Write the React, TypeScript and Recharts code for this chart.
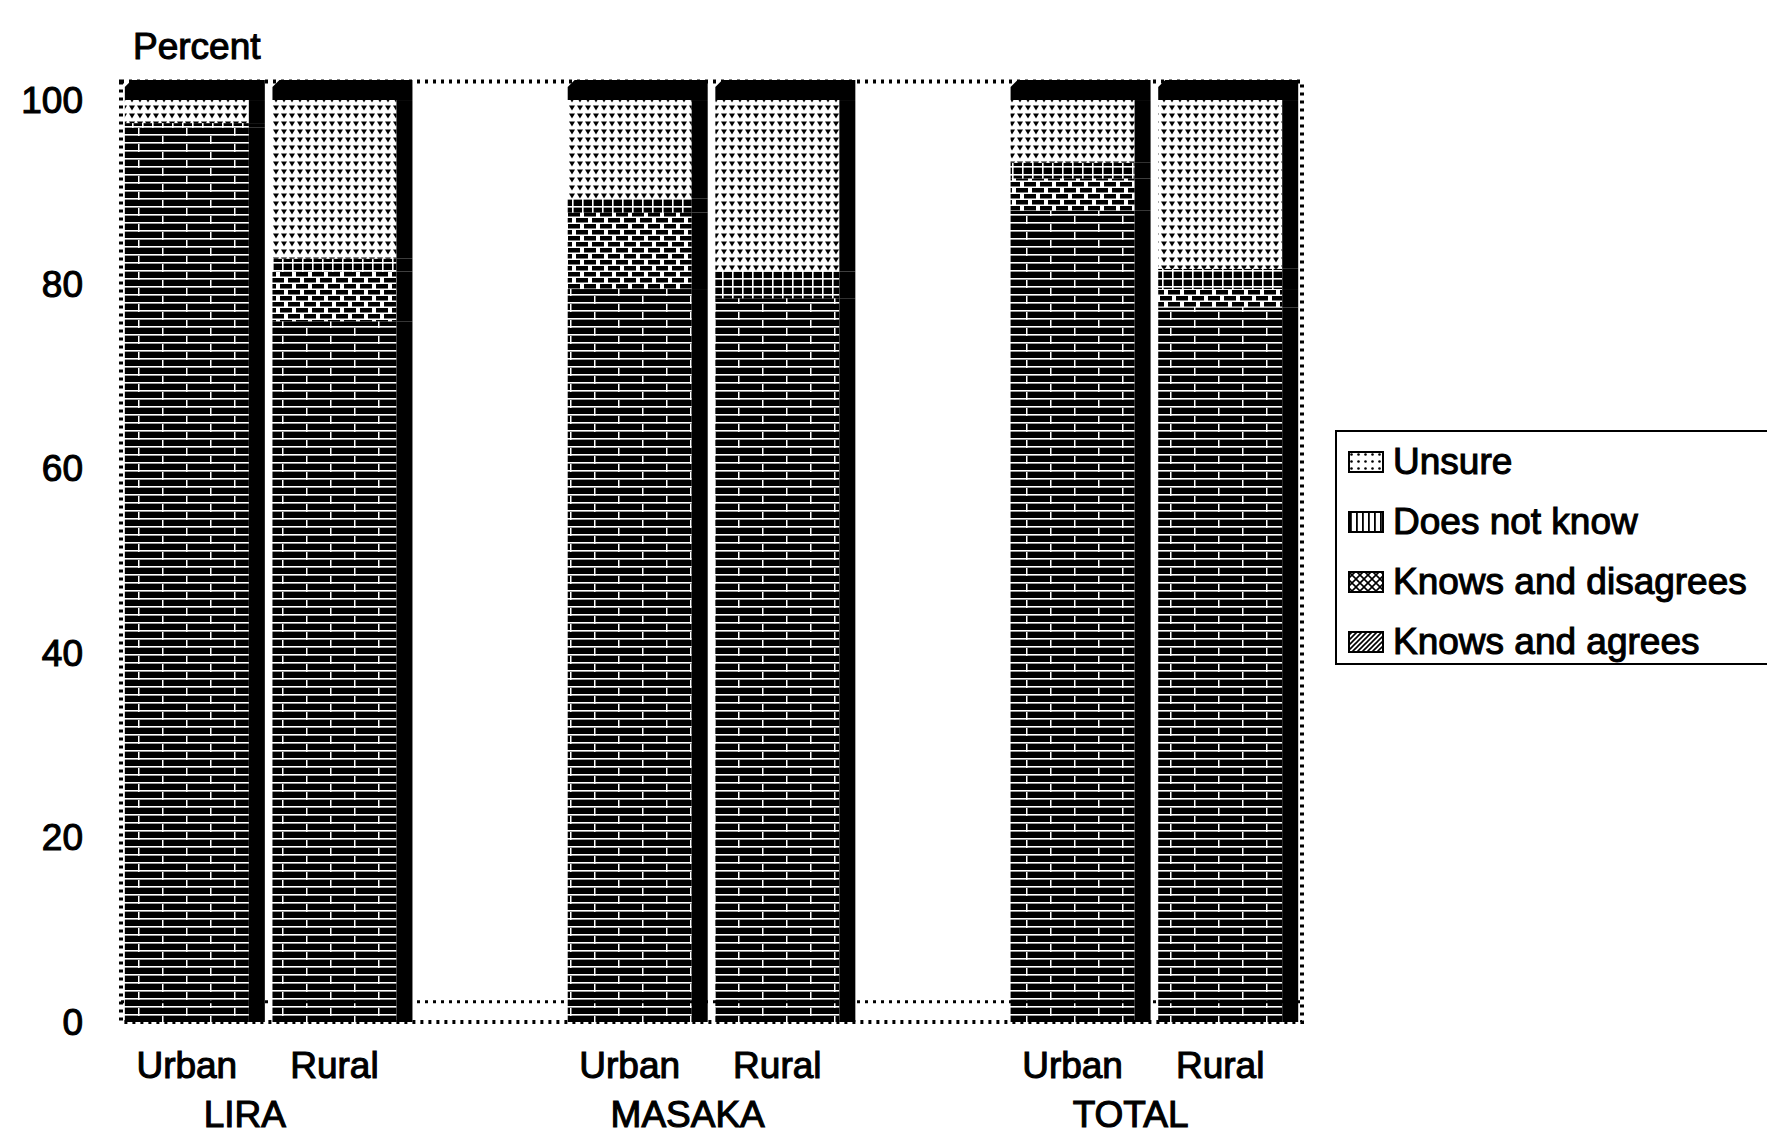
import React from 'react';
import { BarChart, Bar, XAxis, YAxis, Legend, ReferenceLine, ReferenceArea } from 'recharts';

const groups = ['LIRA', 'MASAKA', 'TOTAL'];
const areas = ['Urban', 'Rural'];
const knowsAgrees = [97, 76, 79.5, 78.5, 88, 77.5];
const knowsDisagrees = [0, 5.4, 8.3, 0, 3.5, 2.0];
const doesNotKnow = [0.5, 1.4, 1.5, 2.9, 1.7, 2.2];
const unsure = [2.5, 17.2, 10.7, 18.6, 6.8, 18.3];
const yTicks = [0, 20, 40, 60, 80, 100];

const seriesDefs = [
  { key: 'agrees', name: 'Knows and agrees', values: knowsAgrees, pat: 'pAgree', leg: 'agree' },
  { key: 'disagrees', name: 'Knows and disagrees', values: knowsDisagrees, pat: 'pDis', leg: 'dis' },
  { key: 'dnk', name: 'Does not know', values: doesNotKnow, pat: 'pDnk', leg: 'dnk' },
  { key: 'unsure', name: 'Unsure', values: unsure, pat: 'pUnsure', leg: 'unsure' },
];

type Row = { [k: string]: any };
const rows: Row[] = [];
groups.forEach((g, gi) => {
  areas.forEach((a, ai) => {
    const idx = gi * areas.length + ai;
    const r: Row = { key: g + ' ' + a, label: a, group: ai === 0 ? g : '' };
    seriesDefs.forEach((s) => {
      r[s.key] = s.values[idx];
    });
    rows.push(r);
  });
  if (gi < groups.length - 1) rows.push({ key: 'gap' + gi, label: '', group: '' });
});

const FONT = '"Liberation Sans", Arial, Helvetica, sans-serif';
const FS = 37;
const SW = 1.1;
const SIDE = 16;
const CAP = 20;

function Seg(props: any) {
  const { x, y, width, height, fill, isTop } = props;
  if (x == null || width == null || height == null || isNaN(height) || height <= 0) return null;
  const fw = width - SIDE;
  return (
    <g>
      <rect x={x} y={y} width={fw} height={height} fill={fill} />
      <rect x={x + fw} y={y} width={SIDE} height={height} fill="#000" />
      {isTop && (
        <polygon
          points={`${x + 7},${y - CAP} ${x + width},${y - CAP} ${x + width},${y} ${x},${y} ${x},${y - CAP + 7}`}
          fill="#000"
        />
      )}
    </g>
  );
}

function XTick(props: any) {
  const { x, y, payload } = props;
  const row = rows[payload.index] || {};
  return (
    <g>
      {row.label && (
        <text x={x - SIDE / 2} y={y + 43} textAnchor="middle" dominantBaseline="central"
          fontFamily={FONT} fontSize={FS} fill="#000" stroke="#000" strokeWidth={SW}>
          {row.label}
        </text>
      )}
      {row.group && (
        <text x={x + 50} y={y + 92} textAnchor="middle" dominantBaseline="central"
          fontFamily={FONT} fontSize={FS} fill="#000" stroke="#000" strokeWidth={SW}>
          {row.group}
        </text>
      )}
    </g>
  );
}

function YTick(props: any) {
  const { x, y, payload } = props;
  return (
    <text x={x - 38} y={y} textAnchor="end" dominantBaseline="central"
      fontFamily={FONT} fontSize={FS} fill="#000" stroke="#000" strokeWidth={SW}>
      {payload.value}
    </text>
  );
}

function PercentLabel(props: any) {
  const vb = props.viewBox || {};
  return (
    <text x={vb.x + vb.width + 12} y={vb.y - 35} textAnchor="start" dominantBaseline="central"
      fontFamily={FONT} fontSize={FS} fill="#000" stroke="#000" strokeWidth={SW}>
      Percent
    </text>
  );
}

function Swatch({ kind }: { kind: string }) {
  const id = 'leg_' + kind;
  let pat: any = null;
  if (kind === 'unsure') {
    pat = (
      <pattern id={id} width="7" height="7" patternUnits="userSpaceOnUse">
        <rect width="7" height="7" fill="#fff" />
        <circle cx="3.5" cy="3.5" r="1.3" fill="#000" />
      </pattern>
    );
  } else if (kind === 'dnk') {
    pat = (
      <pattern id={id} width="6" height="6" patternUnits="userSpaceOnUse">
        <rect width="6" height="6" fill="#fff" />
        <rect x="2" width="1.8" height="6" fill="#000" />
      </pattern>
    );
  } else if (kind === 'dis') {
    pat = (
      <pattern id={id} width="8" height="8" patternUnits="userSpaceOnUse">
        <rect width="8" height="8" fill="#fff" />
        <path d="M0,0 L8,8 M8,0 L0,8" stroke="#000" strokeWidth="1.6" />
      </pattern>
    );
  } else {
    pat = (
      <pattern id={id} width="5" height="5" patternUnits="userSpaceOnUse">
        <rect width="5" height="5" fill="#fff" />
        <path d="M-1,6 L6,-1 M-1,1 L1,-1 M4,6 L6,4" stroke="#000" strokeWidth="1.6" />
      </pattern>
    );
  }
  return (
    <svg width="36" height="22" style={{ display: 'block', marginRight: 9 }}>
      <defs>{pat}</defs>
      <rect x="1" y="1" width="34" height="20" fill={`url(#${id})`} stroke="#000" strokeWidth="2" />
    </svg>
  );
}

function LegendContent() {
  const items = [...seriesDefs].reverse();
  return (
    <div style={{
      boxSizing: 'border-box', width: '100%', height: 235,
      borderTop: '2px solid #000', borderLeft: '2px solid #000', borderBottom: '2px solid #000',
      background: '#fff', paddingLeft: 11,
    }}>
      {items.map((s) => (
        <div key={s.key} style={{ height: 60, display: 'flex', alignItems: 'center' }}>
          <Swatch kind={s.leg} />
          <span style={{ fontFamily: FONT, fontSize: FS, color: '#000', WebkitTextStroke: SW + 'px #000', whiteSpace: 'nowrap', lineHeight: '60px' }}>
            {s.name}
          </span>
        </div>
      ))}
    </div>
  );
}

export default function App() {
  return (
    <div style={{ width: 1767, height: 1125, background: '#fff' }}>
      <BarChart
        width={1767}
        height={1125}
        data={rows}
        margin={{ top: 73.6, right: 473, bottom: 11, left: 10 }}
        barCategoryGap="2.6%"
      >
        <defs>
          <pattern id="pAgree" width="48" height="16" patternUnits="userSpaceOnUse">
            <rect width="48" height="16" fill="#000" />
            <rect y="6" width="48" height="1.6" fill="#fff" />
            <rect y="14" width="48" height="1.6" fill="#fff" />
            <rect x="10" y="0" width="1.5" height="8" fill="#fff" />
            <rect x="34" y="8" width="1.5" height="8" fill="#fff" />
          </pattern>
          <pattern id="pDis" width="16" height="12" patternUnits="userSpaceOnUse">
            <rect width="16" height="12" fill="#fff" />
            <rect x="0" y="0" width="12" height="4.5" fill="#000" />
            <rect x="-8" y="6" width="12" height="4.5" fill="#000" />
            <rect x="8" y="6" width="12" height="4.5" fill="#000" />
          </pattern>
          <pattern id="pDnk" width="10" height="8" patternUnits="userSpaceOnUse">
            <rect width="10" height="8" fill="#000" />
            <rect y="6" width="10" height="1.6" fill="#fff" />
            <rect x="4" width="1.6" height="8" fill="#fff" />
          </pattern>
          <pattern id="pUnsure" width="8" height="8" patternUnits="userSpaceOnUse">
            <rect width="8" height="8" fill="#fff" />
            <polygon points="1,1.5 7,1.5 4,6.5" fill="#000" />
          </pattern>
        </defs>
        <XAxis
          dataKey="key"
          height={100}
          tickSize={0}
          tickMargin={0}
          interval={0}
          axisLine={false}
          tickLine={false}
          tick={XTick}
        />
        <YAxis
          type="number"
          domain={[0, 102]}
          ticks={yTicks}
          width={103}
          tickSize={0}
          tickMargin={0}
          tickLine={false}
          axisLine={false}
          tick={YTick}
          label={PercentLabel}
        />
        <ReferenceArea y1={0} y2={102} fill="none" stroke="#000" strokeWidth={4} strokeDasharray="3 5" />
        <ReferenceLine y={2.2} stroke="#000" strokeWidth={3} strokeDasharray="3 5" />
        {seriesDefs.map((s, i) => (
          <Bar
            key={s.key}
            dataKey={s.key}
            name={s.name}
            stackId="a"
            fill={`url(#${s.pat})`}
            isAnimationActive={false}
            shape={(p: any) => <Seg {...p} isTop={i === seriesDefs.length - 1} />}
          />
        ))}
        <Legend
          layout="vertical"
          align="center"
          verticalAlign="middle"
          content={LegendContent}
          wrapperStyle={{ position: 'absolute', left: 1327, top: 422, width: 440, height: 235 }}
        />
      </BarChart>
    </div>
  );
}
